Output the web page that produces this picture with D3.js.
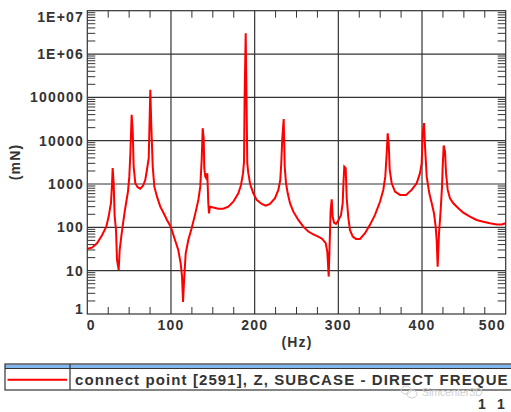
<!DOCTYPE html>
<html><head><meta charset="utf-8">
<script src="https://cdn.jsdelivr.net/npm/d3@7"></script>
<style>
body{margin:0;background:#fff;}
svg{display:block;}
text{font-family:"Liberation Sans",Arial,sans-serif;font-weight:bold;fill:#333;}
</style></head>
<body><svg id="c" width="511" height="412"></svg>
<script>
const freqs = [0,5.6,11.6,17.6,22.7,25.5,28.3,29.5,30.3,31.5,32.7,34.3,35.5,37.5,38.7,40.6,42.7,44.7,46.6,48.6,50.2,51.4,53,54.3,55.4,57.4,60.2,63.3,66.6,69.3,71.3,73.4,75.3,76.5,78.2,80.1,83.3,87.2,91.3,95.2,100,104.8,108.7,111.6,113.2,114.4,115.9,117.6,120.7,124.7,128.7,132.7,135,136.7,137.9,139.1,139.8,141,142.2,143.4,144.6,145.4,146.6,150.6,156.5,162.5,168.5,174.5,180.5,183.7,186.1,187.3,188,189.3,190.5,191.2,192.4,193.2,194.4,195.6,198.4,202.4,208.4,213.2,218.3,224.3,228.3,230.6,231.8,233,234.7,235.9,237.5,239.5,242.2,246.2,252.2,258.1,264.1,270.1,276,280.8,284.9,286.8,288.5,290.8,292.1,293.2,294.8,297.2,300,303.2,305.2,306,307.1,308.8,310,312,313.9,317.2,321.1,325.9,331.9,337.8,343.8,349.8,353.7,356.1,357.8,359,360.2,361.4,363.8,367.7,373.7,380.9,387.6,393.6,397.6,399.6,400.8,402.4,403.6,405.6,408.7,411.6,414.3,416.3,417.5,418.7,420.3,422.3,423.9,424.7,425.9,427.5,428.7,430.7,433.4,437.4,443.4,449.3,457.3,465.3,473.2,481.2,489.2,495.2,500];
const values = [32,34,43,66,104,177,365,950,2330,1050,180,87,18,10.4,30,61,124,230,390,670,1480,4700,39600,16200,2520,1040,845,780,910,1250,2130,3960,149000,21300,2520,870,510,300,212,148,100,51,30,14.8,7.3,1.9,7.3,25,51,95,194,430,870,3600,19400,11400,2330,1480,1360,1780,360,210,300,287,268,268,300,390,610,950,1780,3300,105000,3030000,39600,3000,1780,1480,1040,870,610,430,347,318,347,470,730,1250,3000,11400,31500,2520,1040,610,360,230,148,104,80,69,61,54,43,27.5,7.3,252,445,177,129,120,143,194,360,950,2520,2330,470,162,87,61,54,54,73,114,194,390,730,1480,5130,14800,8700,2130,1040,670,560,560,730,1040,1780,3000,14800,25500,7300,1480,610,360,212,104,51,12.4,73,252,870,2520,7720,5600,1780,730,470,360,277,218,177,148,134,124,116,116,124];
const xTicks = [0,100,200,300,400,500];
const yTicks = [1,10,100,1000,10000,1e5,1e6,1e7];
const yTickLabels = ["1","10","100","1000","10000","100000","1E+06","1E+07"];
const xLabel = "(Hz)", yLabel = "(mN)";
const legendText = "connect point [2591], Z, SUBCASE - DIRECT FREQUE";

const svg = d3.select("#c");
const L = 87.3, R = 505.7, T = 10.7, B = 314;
const x = d3.scaleLinear().domain([0,500]).range([L,R]);
const y = d3.scaleLog().domain([1,1e7]).range([B,T]);
const grid = "#333";

// minor ticks
const xMinor = d3.range(25,500,25).filter(v=>v%100!==0);
const g = svg.append("g");
xMinor.forEach(v=>{
  g.append("line").attr("x1",x(v)).attr("x2",x(v)).attr("y1",T).attr("y2",T+7).attr("stroke",grid);
  g.append("line").attr("x1",x(v)).attr("x2",x(v)).attr("y1",B).attr("y2",B-7).attr("stroke",grid);
});
const yMinor = [];
for(let d=0; d<7; d++) for(let k=2;k<=9;k++) yMinor.push(k*Math.pow(10,d));
yMinor.forEach(v=>{
  g.append("line").attr("x1",L).attr("x2",L+8).attr("y1",y(v)).attr("y2",y(v)).attr("stroke",grid);
  g.append("line").attr("x1",R).attr("x2",R-8).attr("y1",y(v)).attr("y2",y(v)).attr("stroke",grid);
});
// grid
xTicks.slice(1,-1).forEach(v=>g.append("line").attr("x1",x(v)).attr("x2",x(v)).attr("y1",T).attr("y2",B).attr("stroke",grid).attr("stroke-width",1.2));
yTicks.slice(1,-1).forEach(v=>g.append("line").attr("x1",L).attr("x2",R).attr("y1",y(v)).attr("y2",y(v)).attr("stroke",grid).attr("stroke-width",1.2));

// curve
svg.append("clipPath").attr("id","cp").append("rect").attr("x",L).attr("y",T).attr("width",R-L).attr("height",B-T);
const pts = freqs.map((f,i)=>[f,values[i]]);
svg.append("path").attr("clip-path","url(#cp)").attr("d",d3.line().x(d=>x(d[0])).y(d=>y(d[1]))(pts))
  .attr("fill","none").attr("stroke","#ff0000").attr("stroke-width",2).attr("stroke-linejoin","miter");

// frame
svg.append("rect").attr("x",L).attr("y",T).attr("width",R-L).attr("height",B-T).attr("fill","none").attr("stroke",grid).attr("stroke-width",1.2);

// tick labels
xTicks.forEach((v,i)=>{
  svg.append("text").attr("x",x(v)+(i===0?-0.5:0)).attr("y",330).attr("font-size",14).attr("letter-spacing",1.2)
    .attr("text-anchor", i===0?"start":(i===xTicks.length-1?"end":"middle")).text(String(v));
});
yTicks.forEach((v,i)=>{
  let yy = y(v)+5;
  if(i===0) yy = B;
  if(i===yTicks.length-1) yy = T+11;
  svg.append("text").attr("x",84).attr("y",yy).attr("font-size",14).attr("letter-spacing",1.2)
    .attr("text-anchor","end").text(yTickLabels[i]);
});
svg.append("text").attr("x",297).attr("y",347).attr("font-size",14).attr("letter-spacing",1.2).attr("text-anchor","middle").text(xLabel);
svg.append("text").attr("transform","translate(20,162) rotate(-90)").attr("font-size",14).attr("letter-spacing",1.2).attr("text-anchor","middle").text(yLabel);

// legend
const lg = svg.append("g");
lg.append("rect").attr("x",5).attr("y",364.5).attr("width",520).attr("height",4).attr("fill","#82b6ee");
lg.append("rect").attr("x",5).attr("y",364).attr("width",520).attr("height",26).attr("fill","none").attr("stroke",grid).attr("stroke-width",1.2);
lg.append("line").attr("x1",5).attr("x2",525).attr("y1",368.5).attr("y2",368.5).attr("stroke",grid).attr("stroke-width",1);
lg.append("line").attr("x1",70).attr("x2",70).attr("y1",364).attr("y2",390).attr("stroke",grid).attr("stroke-width",1.2);
lg.append("line").attr("x1",7.5).attr("x2",67).attr("y1",379.7).attr("y2",379.7).attr("stroke","#ff0000").attr("stroke-width",2);
lg.append("text").attr("x",75).attr("y",384.7).attr("font-size",15).attr("letter-spacing",1.1).text(legendText);

// watermark & corner text
svg.append("text").attr("x",422).attr("y",396).attr("font-size",10.5).style("fill","#cfcfcf").style("font-weight","normal").text("Simcenter3D");
const ic = svg.append("g").attr("fill","none").attr("stroke","#cfcfcf");
ic.append("ellipse").attr("cx",406).attr("cy",390).attr("rx",5).attr("ry",4);
ic.append("ellipse").attr("cx",412).attr("cy",394).attr("rx",5).attr("ry",4);
svg.append("text").attr("x",478).attr("y",409).attr("font-size",14).text("1");
svg.append("text").attr("x",497).attr("y",409).attr("font-size",14).text("1");
</script></body></html>
